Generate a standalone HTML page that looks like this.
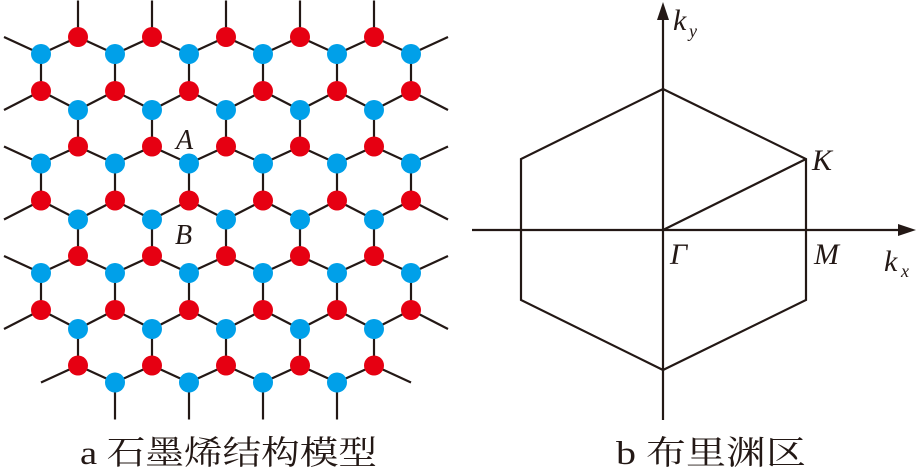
<!DOCTYPE html>
<html><head><meta charset="utf-8"><style>
html,body{margin:0;padding:0;background:#fff;}
svg{display:block;}
.it{font-family:"Liberation Serif","Times New Roman",serif;font-style:italic;fill:#231815;}
.cap{font-family:"Liberation Serif","Noto Serif CJK SC",serif;fill:#231815;font-size:33px;}
</style></head><body>
<svg id="s" width="917" height="471" viewBox="0 0 917 471" xmlns="http://www.w3.org/2000/svg">
<g id="bonds" stroke="#231815" stroke-width="2.2" fill="none"></g>
<g id="nodes"></g>
<text class="it" x="176" y="149" font-size="28">A</text>
<text class="it" x="175" y="244" font-size="28">B</text>
<g stroke="#231815" stroke-width="2.2" fill="none">
<line x1="663" y1="14" x2="663" y2="420"/>
<line x1="472" y1="230" x2="903" y2="230"/>
<polygon points="663,89 806,159 806,300 663,370 521,300 521,159"/>
<line x1="663" y1="230" x2="806" y2="159"/>
</g>
<polygon points="663,2 657,20 669,20" fill="#231815"/>
<polygon points="916,230 898,224 898,236" fill="#231815"/>
<text class="it" x="673" y="30" font-size="30">k</text><text class="it" x="689" y="37" font-size="18">y</text>
<text class="it" x="812" y="170" font-size="30">K</text>
<text class="it" x="814" y="264" font-size="30">M</text>
<text class="it" x="670" y="264" font-size="30">Γ</text>
<text class="it" x="884" y="271" font-size="30">k</text><text class="it" x="901" y="277" font-size="18">x</text>
<text class="cap" x="80" y="464" textLength="297" lengthAdjust="spacingAndGlyphs">a 石墨烯结构模型</text>
<text class="cap" x="616" y="464" textLength="190" lengthAdjust="spacingAndGlyphs">b 布里渊区</text>
</svg>
<script>
(function(){
var NS="http://www.w3.org/2000/svg";
var vis={};
function k(x,y){return Math.round(x)+","+Math.round(y);}
var reds=[],blues=[];
for(var i=0;i<=4;i++)for(var j=0;j<=3;j++){reds.push([78+74*i,37+109.5*j]);}
for(var i=0;i<=5;i++)for(var j=0;j<=2;j++){reds.push([41+74*i,91+109.5*j]);}
for(var i=0;i<=5;i++)for(var j=0;j<=3;j++){if(j==3&&(i==0||i==5))continue;blues.push([41+74*i,54+109.5*j]);}
for(var i=0;i<=4;i++)for(var j=0;j<=2;j++){blues.push([78+74*i,110+109.5*j]);}
reds.forEach(function(p){vis[k(p[0],p[1])]=1;});
blues.forEach(function(p){vis[k(p[0],p[1])]=1;});
var bg=document.getElementById("bonds"),ng=document.getElementById("nodes");
function line(a,b,c,d){var l=document.createElementNS(NS,"line");l.setAttribute("x1",a);l.setAttribute("y1",b);l.setAttribute("x2",c);l.setAttribute("y2",d);bg.appendChild(l);}
for(var i=-1;i<=6;i++)for(var j=-1;j<=4;j++){
 var x=78+74*i,y=37+109.5*j;
 [[x-37,y+17],[x+37,y+17],[x,y-36.5]].forEach(function(b){if(vis[k(x,y)]||vis[k(b[0],b[1])])line(x,y,b[0],b[1]);});
 var x2=41+74*i,y2=91+109.5*j;
 [[x2,y2-37],[x2-37,y2+19],[x2+37,y2+19]].forEach(function(b){if(vis[k(x2,y2)]||vis[k(b[0],b[1])])line(x2,y2,b[0],b[1]);});
}
function dot(p,c){var e=document.createElementNS(NS,"circle");e.setAttribute("cx",p[0]);e.setAttribute("cy",p[1]);e.setAttribute("r",10);e.setAttribute("fill",c);ng.appendChild(e);}
reds.forEach(function(p){dot(p,"#e60012");});
blues.forEach(function(p){dot(p,"#00a0e9");});
})();
</script>
</body></html>
